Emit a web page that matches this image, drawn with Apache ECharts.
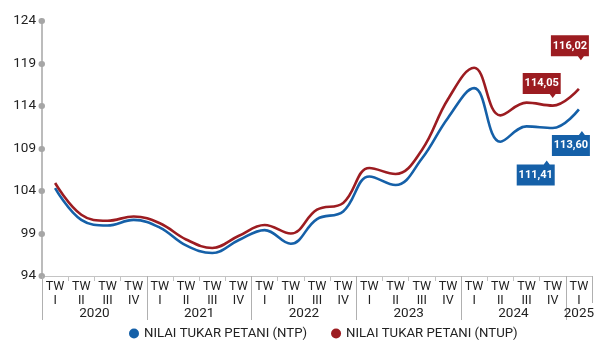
<!DOCTYPE html>
<html>
<head>
<meta charset="utf-8">
<script src="https://cdn.jsdelivr.net/npm/echarts@6/dist/echarts.min.js"></script>
<style>
  html, body { margin: 0; padding: 0; background: #fff; }
  #chart { width: 606px; height: 347px; }
</style>
</head>
<body>
<div id="chart"></div>
<script>
// Quarterly farmer terms-of-trade indices, 2020 Q1 – 2025 Q1
const quarters = [
  'TW\nI', 'TW\nII', 'TW\nIII', 'TW\nIV',
  'TW\nI', 'TW\nII', 'TW\nIII', 'TW\nIV',
  'TW\nI', 'TW\nII', 'TW\nIII', 'TW\nIV',
  'TW\nI', 'TW\nII', 'TW\nIII', 'TW\nIV',
  'TW\nI', 'TW\nII', 'TW\nIII', 'TW\nIV',
  'TW\nI'
];
const years = ['2020', '2021', '2022', '2023', '2024', '2025'];
const quartersPerYear = [4, 4, 4, 4, 4, 1];

const ntp = [104.35, 100.6, 99.95, 100.6, 99.7, 97.6, 96.7, 98.2, 99.4, 97.8,
             100.7, 101.6, 105.7, 104.7, 107.8, 112.6, 116.1, 109.8, 111.6, 111.41, 113.60];
const ntup = [104.94, 101.2, 100.5, 101.0, 100.2, 98.3, 97.3, 98.7, 100.0, 99.0,
              101.8, 102.6, 106.7, 106.0, 108.8, 114.8, 118.5, 112.9, 114.4, 114.05, 116.02];

const yTicks = [94, 99, 104, 109, 114, 119, 124];

// Which points get a value callout
const ntpCallouts = [19, 20];
const ntupCallouts = [19, 20];

const BLUE = '#1560a8';
const RED = '#9c1c21';
const AXIS_GREY = '#a6a6a6';
const FONT = 'Roboto, sans-serif';

// Year boundaries and centres on a 0..N scale of quarters
const yearEdges = [0];
const yearCentres = [];
quartersPerYear.forEach((n, i) => {
  const start = yearEdges[i];
  yearCentres.push(start + n / 2);
  yearEdges.push(start + n);
});
const totalQ = quarters.length;

const fmt = v => v.toFixed(2).replace('.', ',');

// Callout shapes: box with a small pointer below (down) or above (up)
const calloutDown = 'path://M0,0H38V21H33L30,25L27,21H0Z';
const calloutUp = 'path://M0,4H27L30,0L33,4H38V25H0Z';

function callouts(values, idxs, shape, color, offsets, textDy) {
  return {
    silent: true,
    animation: false,
    data: idxs.map((i, k) => ({
      coord: [i, values[i]],
      value: fmt(values[i]),
      symbol: shape,
      symbolSize: [38, 25],
      symbolKeepAspect: false,
      symbolOffset: offsets[k],
      itemStyle: { color: color },
      label: {
        show: true,
        position: 'inside',
        offset: [0, textDy],
        color: '#fff',
        fontFamily: FONT,
        fontWeight: 'bold',
        fontSize: 11,
        formatter: '{c}'
      }
    }))
  };
}

const chart = echarts.init(document.getElementById('chart'), null, { renderer: 'canvas' });

chart.setOption({
  animation: false,
  backgroundColor: '#fff',
  grid: { left: 42, right: 14, top: 21, bottom: 71, containLabel: false },
  legend: {
    bottom: 2,
    left: 124,
    itemGap: 24,
    icon: 'circle',
    itemWidth: 10,
    itemHeight: 10,
    textStyle: { color: '#222', fontSize: 13.2, fontFamily: FONT },
    data: ['NILAI TUKAR PETANI (NTP)', 'NILAI TUKAR PETANI (NTUP)']
  },
  xAxis: [
    {
      type: 'category',
      data: quarters,
      boundaryGap: true,
      axisLine: { show: true, lineStyle: { color: '#c4c4c4', width: 1 } },
      axisTick: { show: true, length: 5, interval: 0, lineStyle: { color: '#c4c4c4' } },
      axisLabel: {
        interval: 0, margin: 4, color: '#222', fontSize: 12.5,
        lineHeight: 14, fontFamily: FONT
      },
      splitLine: { show: false }
    },
    {
      type: 'value',
      min: 0, max: totalQ,
      position: 'bottom',
      axisLine: { show: false },
      axisTick: {
        show: true, length: 44, customValues: yearEdges.slice(0, -1),
        lineStyle: { color: '#b0b0b0' }
      },
      axisLabel: {
        show: true, margin: 31, customValues: yearCentres,
        color: '#222', fontSize: 13.5, fontFamily: FONT,
        formatter: v => years[yearCentres.indexOf(v)]
      },
      splitLine: { show: false }
    },
    {
      type: 'value',
      min: 0, max: totalQ,
      position: 'bottom',
      axisLine: { show: false },
      axisTick: {
        show: true, length: 27, customValues: [totalQ],
        lineStyle: { color: '#b0b0b0' }
      },
      axisLabel: { show: false },
      splitLine: { show: false }
    }
  ],
  yAxis: {
    type: 'value',
    min: yTicks[0],
    max: yTicks[yTicks.length - 1],
    axisLine: { show: true, lineStyle: { color: AXIS_GREY, width: 1.5 } },
    axisTick: {
      show: true, length: 0.5, customValues: yTicks,
      lineStyle: { color: AXIS_GREY, width: 6, cap: 'round' }
    },
    axisLabel: {
      customValues: yTicks, margin: 6, color: '#222',
      fontSize: 13.5, fontFamily: FONT
    },
    splitLine: { show: false }
  },
  series: [
    {
      name: 'NILAI TUKAR PETANI (NTP)',
      type: 'line',
      data: ntp,
      smooth: 0.4,
      showSymbol: false,
      symbol: 'circle',
      color: BLUE,
      lineStyle: { color: BLUE, width: 2.6 },
      z: 2,
      markPoint: callouts(ntp, ntpCallouts, calloutUp, BLUE,
        [[-17, 45], [-8, 34]], 2)
    },
    {
      name: 'NILAI TUKAR PETANI (NTUP)',
      type: 'line',
      data: ntup,
      smooth: 0.4,
      showSymbol: false,
      symbol: 'circle',
      color: RED,
      lineStyle: { color: RED, width: 2.6 },
      z: 3,
      markPoint: callouts(ntup, ntupCallouts, calloutDown, RED,
        [[-11, -20], [-9, -41]], -2)
    }
  ]
});
</script>
</body>
</html>
